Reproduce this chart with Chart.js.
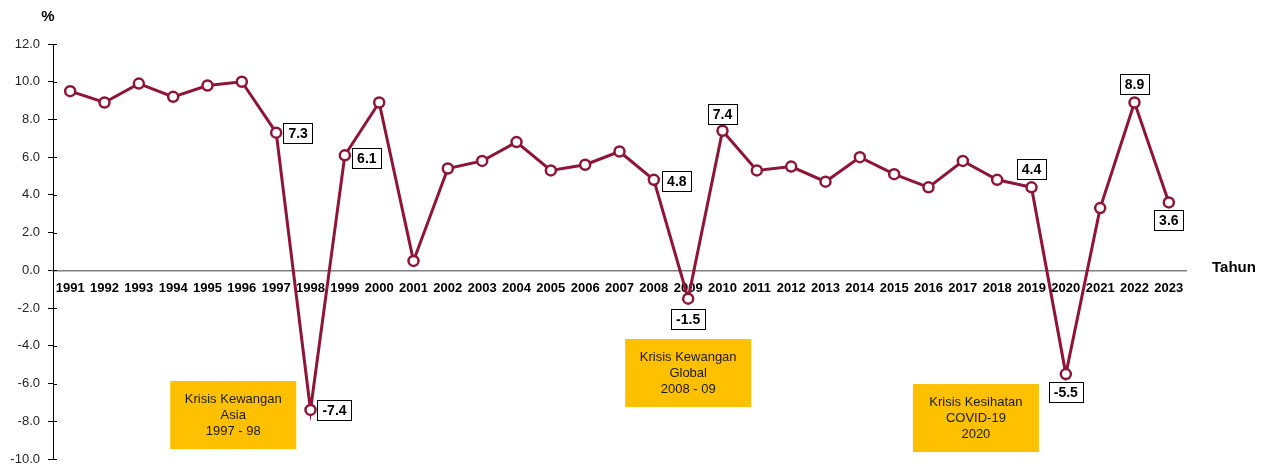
<!DOCTYPE html>
<html>
<head>
<meta charset="utf-8">
<script src="https://cdn.jsdelivr.net/npm/chart.js@4"></script>
<style>
  html, body { margin: 0; padding: 0; background: #fff; }
  #wrap { width: 1270px; height: 469px; }
</style>
</head>
<body>
<div id="wrap"><canvas id="lineChart" width="1270" height="469"></canvas></div>
<script>
var tahun = ['1991', '1992', '1993', '1994', '1995', '1996', '1997', '1998', '1999', '2000',
    '2001', '2002', '2003', '2004', '2005', '2006', '2007', '2008', '2009', '2010',
    '2011', '2012', '2013', '2014', '2015', '2016', '2017', '2018', '2019', '2020',
    '2021', '2022', '2023'];
var kdnk = [9.5, 8.9, 9.9, 9.2, 9.8, 10.0, 7.3, -7.4, 6.1, 8.9,
    0.5, 5.4, 5.8, 6.8, 5.3, 5.6, 6.3, 4.8, -1.5, 7.4,
    5.3, 5.5, 4.7, 6.0, 5.1, 4.4, 5.8, 4.8, 4.4, -5.5,
    3.3, 8.9, 3.6];
var yTicks = [-10, -8, -6, -4, -2, 0, 2, 4, 6, 8, 10, 12];

// which years get a value box
var labelYears = ['1997', '1998', '1999', '2008', '2009', '2010', '2019', '2020', '2022', '2023'];

var krisis = [
    { teks: ['Krisis Kewangan', 'Asia', '1997 - 98'], tahun: 4.75, nilai: -7.67 },
    { teks: ['Krisis Kewangan', 'Global', '2008 - 09'], tahun: 18.0, nilai: -5.44 },
    { teks: ['Krisis Kesihatan', 'COVID-19', '2020'], tahun: 26.38, nilai: -7.83 }
];

// offsets of value boxes from the point (px)
var labelOffset = {
    '1997': [22, 0], '1998': [24, 0], '1999': [22, 3], '2008': [23, 1],
    '2009': [0, 20], '2010': [0, -17], '2019': [0, -18], '2020': [0, 18],
    '2022': [0, -18], '2023': [0, 18]
};

var MAROON = '#8E1537';
var FONT = '"Liberation Sans", Arial, sans-serif';

var extrasPlugin = {
    id: 'extras',
    afterDatasetsDraw: function (chart) {
        var ctx = chart.ctx;
        var x = chart.scales.x;
        var y = chart.scales.y;
        var area = chart.chartArea;
        ctx.save();

        // small tick stubs on the inner side of the y axis
        ctx.strokeStyle = '#000';
        ctx.lineWidth = 1;
        yTicks.forEach(function (v) {
            var py = Math.round(y.getPixelForValue(v)) + 0.5;
            ctx.beginPath();
            ctx.moveTo(area.left, py);
            ctx.lineTo(area.left + 4, py);
            ctx.stroke();
        });

        // crisis boxes
        krisis.forEach(function (k) {
            var left = x.getPixelForValue(0) + k.tahun * (x.getPixelForValue(1) - x.getPixelForValue(0));
            var cy = y.getPixelForValue(k.nilai);
            var w = 126, h = 68;
            ctx.fillStyle = '#FFC000';
            ctx.fillRect(left - w / 2, cy - h / 2, w, h);
            ctx.fillStyle = '#1a1a1a';
            ctx.font = '13px ' + FONT;
            ctx.textAlign = 'center';
            ctx.textBaseline = 'middle';
            k.teks.forEach(function (t, i) {
                ctx.fillText(t, left, cy + (i - 1) * 16);
            });
        });

        // value boxes
        ctx.font = 'bold 14px ' + FONT;
        ctx.textAlign = 'center';
        ctx.textBaseline = 'middle';
        labelYears.forEach(function (yr) {
            var i = tahun.indexOf(yr);
            var txt = kdnk[i].toFixed(1);
            var px = x.getPixelForValue(i) + labelOffset[yr][0];
            var py = y.getPixelForValue(kdnk[i]) + labelOffset[yr][1];
            var w = ctx.measureText(txt).width + 10;
            var h = 20;
            ctx.fillStyle = '#fff';
            ctx.fillRect(px - w / 2, py - h / 2, w, h);
            ctx.strokeStyle = '#000';
            ctx.lineWidth = 1;
            ctx.strokeRect(Math.round(px - w / 2) + 0.5, Math.round(py - h / 2) + 0.5, Math.round(w), h);
            ctx.fillStyle = '#000';
            ctx.fillText(txt, px, py + 1);
        });

        // axis captions
        ctx.fillStyle = '#000';
        ctx.font = 'bold 15px ' + FONT;
        ctx.textAlign = 'left';
        ctx.fillText('Tahun', area.right + 26, y.getPixelForValue(0) - 3);
        ctx.textAlign = 'center';
        ctx.fillText('%', 48, 17);
        ctx.restore();
    }
};

var ctx = document.getElementById('lineChart').getContext('2d');
var lineChart = new Chart(ctx, {
    type: 'line',
    data: {
        labels: tahun,
        datasets: [{
            label: 'KDNK',
            data: kdnk,
            borderColor: MAROON,
            borderWidth: 3,
            backgroundColor: '#fff',
            pointBackgroundColor: '#fff',
            pointBorderColor: MAROON,
            pointBorderWidth: 2.5,
            pointRadius: 5,
            tension: 0
        }]
    },
    plugins: [extrasPlugin],
    options: {
        responsive: false,
        animation: false,
        layout: {
            padding: { top: 44, right: 84, bottom: 10, left: 0 }
        },
        plugins: {
            legend: { display: false },
            tooltip: { enabled: false }
        },
        scales: {
            x: {
                type: 'category',
                offset: true,
                position: { y: 0 },
                grid: { display: false, drawTicks: false },
                border: { color: '#7f7f7f', width: 1.5 },
                ticks: {
                    autoSkip: false,
                    maxRotation: 0,
                    padding: 10,
                    color: '#000',
                    font: { family: FONT, size: 13, weight: 'bold' }
                }
            },
            y: {
                min: -10,
                max: 12,
                afterBuildTicks: function (scale) {
                    scale.ticks = yTicks.map(function (v) { return { value: v }; });
                },
                afterFit: function (scale) {
                    scale.width = 53;
                    scale.paddingTop = 0;
                    scale.paddingBottom = 0;
                },
                grid: { drawOnChartArea: false, drawTicks: true, tickLength: 5, color: '#000' },
                border: { color: '#000', width: 1 },
                ticks: {
                    padding: 8,
                    color: '#262626',
                    font: { family: FONT, size: 13 },
                    callback: function (value) { return value.toFixed(1); }
                }
            }
        }
    }
});
</script>
</body>
</html>
